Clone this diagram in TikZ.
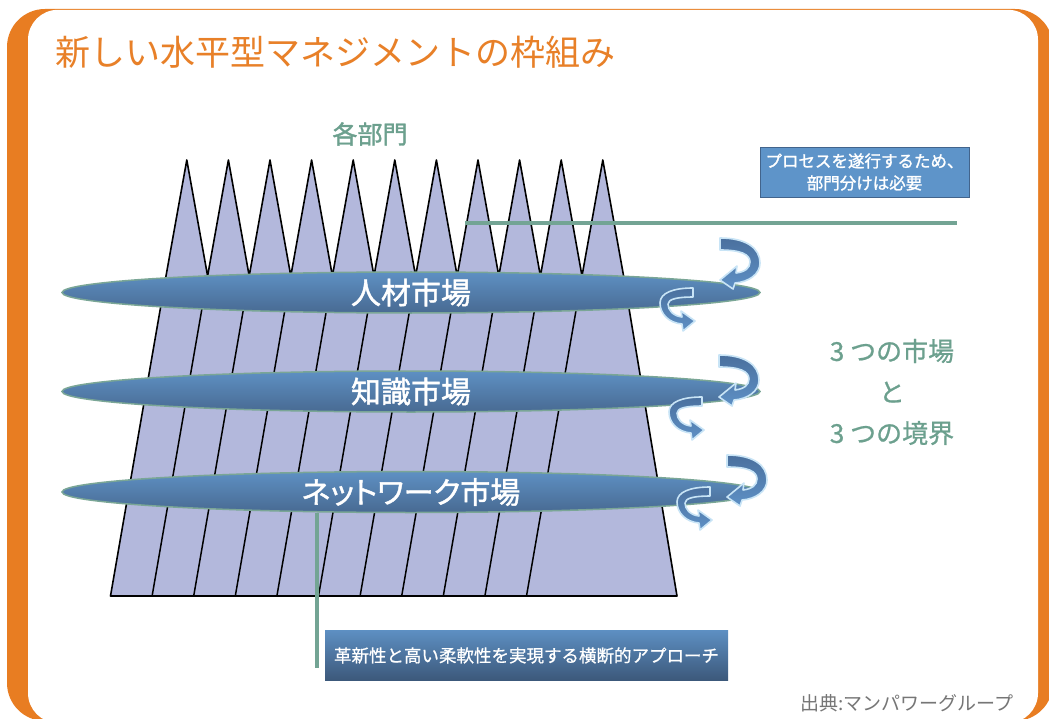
\documentclass[tikz,border=0pt]{standalone}
\usepackage{fontspec}
\setmainfont{Noto Sans CJK JP}
\newfontfamily\jpp[RawFeature=+palt,FakeBold=1.4]{Noto Sans CJK JP}
\newfontfamily\jpm[FakeBold=1.4]{Noto Sans CJK JP}
\newfontfamily\jpn[FakeBold=0.8]{Noto Sans CJK JP}
\usetikzlibrary{shapes.geometric}
\definecolor{frameor}{RGB}{232,125,34}
\definecolor{titleor}{RGB}{232,128,40}
\definecolor{tealtxt}{RGB}{108,160,142}
\definecolor{lav}{RGB}{179,184,220}
\definecolor{elltop}{RGB}{94,144,195}
\definecolor{ellbot}{RGB}{72,106,146}
\definecolor{ellborder}{RGB}{122,166,150}
\definecolor{boxblue}{RGB}{94,148,201}
\definecolor{boxedge}{RGB}{66,100,140}
\definecolor{btop}{RGB}{93,143,194}
\definecolor{bbot}{RGB}{60,88,122}
\definecolor{arrdark}{RGB}{74,112,158}
\definecolor{arrlight}{RGB}{94,144,197}
\definecolor{arredge}{RGB}{200,228,246}
\definecolor{greenline}{RGB}{115,164,148}
\definecolor{srcgray}{RGB}{118,118,118}
\tikzset{
  market/.style={ellipse, minimum width=698pt, minimum height=41pt, inner sep=0pt,
    draw=ellborder, line width=1.5pt, top color=elltop, bottom color=ellbot,
    text=white, font=\jpm\fontsize{30}{34}\selectfont},
  arrowshape/.style={draw=arredge, line width=1.6pt, top color=arrdark, bottom color=arrlight, line join=round},
  greenln/.style={draw=greenline, line width=4pt},
  uarrow/.pic={\path[arrowshape] (0,0) .. controls (26,0) and (40,10) .. (40,25)
     .. controls (40,36) and (29,44) .. (15,45) -- (13,51) -- (0,42) -- (17,28) -- (16,35)
     .. controls (25,34) and (30,30) .. (30,24) .. controls (30,16) and (20,12) .. (0,12) -- cycle;},
  larrow/.pic={\path[arrowshape] (0,0) .. controls (-20,0) and (-33,5) .. (-33,15)
     .. controls (-33,26) and (-24,35) .. (-11,36) -- (-10,43) -- (2,33) -- (-12,23) -- (-11,29)
     .. controls (-20,28) and (-25,22) .. (-25,16) .. controls (-25,11) and (-15,9) .. (0,9) -- cycle;},
  bluebox/.style={rectangle, inner sep=0pt, text=white, align=center}
}
\begin{document}
\begin{tikzpicture}[x=1pt,y=-1pt]
\useasboundingbox (0,0) rectangle (1049,719);
% frame
\fill[frameor, rounded corners=38pt] (7,9) rectangle (1053,721);
\fill[white, rounded corners=30pt] (28,9.8) rectangle (1038,723);
% title
\node[anchor=west, text=titleor, font=\fontsize{35}{40}\selectfont, inner sep=0pt] (title) at (55,52) {新しい水平型マネジメントの枠組み};
% departments body
\filldraw[fill=lav, draw=black, line width=1.6pt, line join=round]
  (166,276) \foreach \i in {0,...,10} { -- ({186.8+41.6*\i},160) -- ({207.6+41.6*\i},276) }
  -- (677,596) -- (110.5,596) -- cycle;
\foreach \i in {1,...,10} \draw[line width=1.5pt] ({166+41.6*\i},276) -- ({110.5+41.6*\i},596);
\node[text=tealtxt, font=\jpm\fontsize{25}{28}\selectfont] (dept) at (370,134) {各部門};
% horizontal callout line
\coordinate (hl1) at (465,223);
\coordinate (hl2) at (957,223);
\draw[greenln] (hl1) -- (hl2);
% markets
\node[market] (hr) at (411,292.5) {人材市場};
\node[market] (kn) at (411,391.5) {知識市場};
\node[market] (nw) at (411,492) {{\jpp ネットワーク}市場};
% vertical callout line
\coordinate (vl1) at (317,513);
\coordinate (vl2) at (317,668);
\draw[greenln] (vl1) -- (vl2);
% rotating arrows
\pic at (720,238) {uarrow};
\pic at (693,288) {larrow};
\pic at (719,355) {uarrow};
\pic at (702,397) {larrow};
\pic at (727,455) {uarrow};
\pic at (710,487) {larrow};
% boxes
\node[bluebox, fill=boxblue, draw=boxedge, line width=0.8pt, minimum width=209pt, minimum height=50pt,
  font=\jpm\fontsize{16.5}{22}\selectfont] (proc) at (864.5,172) {プロセスを遂行するため、\\部門分けは必要};
\node[bluebox, top color=btop, bottom color=bbot, minimum width=403pt, minimum height=50pt,
  font=\jpn\fontsize{17.5}{20}\selectfont] (appr) at (526.5,655.5) {革新性と高い柔軟性を実現する横断的アプローチ};
% right text
\node[text=tealtxt, font=\jpn\fontsize{26}{41}\selectfont, align=center] (three) at (892,392) {3 つの市場\\と\\3 つの境界};
% source
\node[anchor=east, text=srcgray, font=\fontsize{19}{22}\selectfont, inner sep=0pt] (src) at (1014,703) {出典:マンパワーグループ};
\end{tikzpicture}
\end{document}
